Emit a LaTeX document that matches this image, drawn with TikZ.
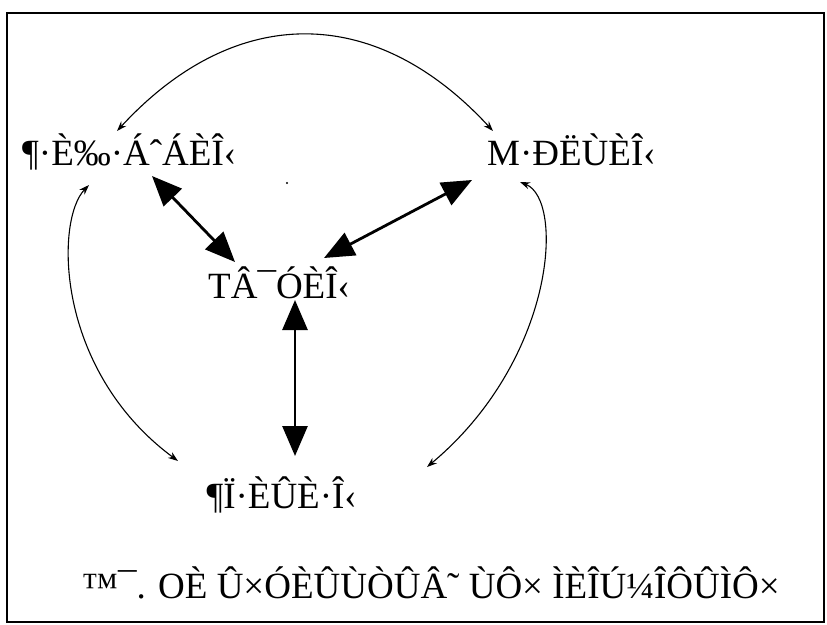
\documentclass[tikz,border=0pt]{standalone}
\usepackage{fontspec}
\setmainfont{Liberation Serif}
\usetikzlibrary{arrows.meta}
\begin{document}
\begin{tikzpicture}[x=1pt,y=-1pt,
  lbl/.style={inner sep=0pt,font=\fontsize{37}{40}\selectfont},
  thin/.style={line width=1.1pt,{Stealth[length=10pt,width=7pt]}-{Stealth[length=10pt,width=7pt]}},
  thick/.style={line width=2.8pt,{Triangle[length=30pt,width=25pt]}-{Triangle[length=30pt,width=25pt]}}]
\useasboundingbox (0,0) rectangle (827,624);
\draw[line width=2pt] (7,13) rectangle (824,622);
% labels
\node[lbl,anchor=base west] (l1) at (22,165) {¶·È‰·ÁˆÁÈÎ‹};
\node[lbl,anchor=base west] (l2) at (487,165) {M·ÐËÙÈÎ‹};
\node[lbl,anchor=base west] (l3) at (208,298) {TÂ¯ÓÈÎ‹};
\node[lbl,anchor=base east] (l4) at (357,508) {¶Ï·ÈÛÈ·Î‹};
\node[lbl,anchor=base east] (cap) at (780,598) {™¯. OÈ Û×ÓÈÛÙÒÛÂ˜ ÙÔ× ÌÈÎÚ¼ÎÔÛÌÔ×};
% endpoints
\coordinate (t1) at (117,131);
\coordinate (t2) at (493,131);
\coordinate (lt) at (89,185);
\coordinate (lb) at (178,461);
\coordinate (rt) at (520,182);
\coordinate (rb) at (427,467);
\coordinate (a1) at (152,176);
\coordinate (a2) at (235,262);
\coordinate (b1) at (472,180);
\coordinate (b2) at (324,258);
\coordinate (c1) at (295,300);
\coordinate (c2) at (295,456);
% thin curved arrows
\draw[thin] (t1) .. controls (235,3) and (375,3) .. (t2);
\draw[thin] (lt) .. controls (55,220) and (55,370) .. (lb);
\draw[thin] (rt) .. controls (565,200) and (555,360) .. (rb);
% thick arrows
\draw[thick] (a1) -- (a2);
\draw[thick] (b1) -- (b2);
\draw[thick] (c1) -- (c2);
% stray dot
\fill (287,183) circle (1.2);
\end{tikzpicture}
\end{document}
